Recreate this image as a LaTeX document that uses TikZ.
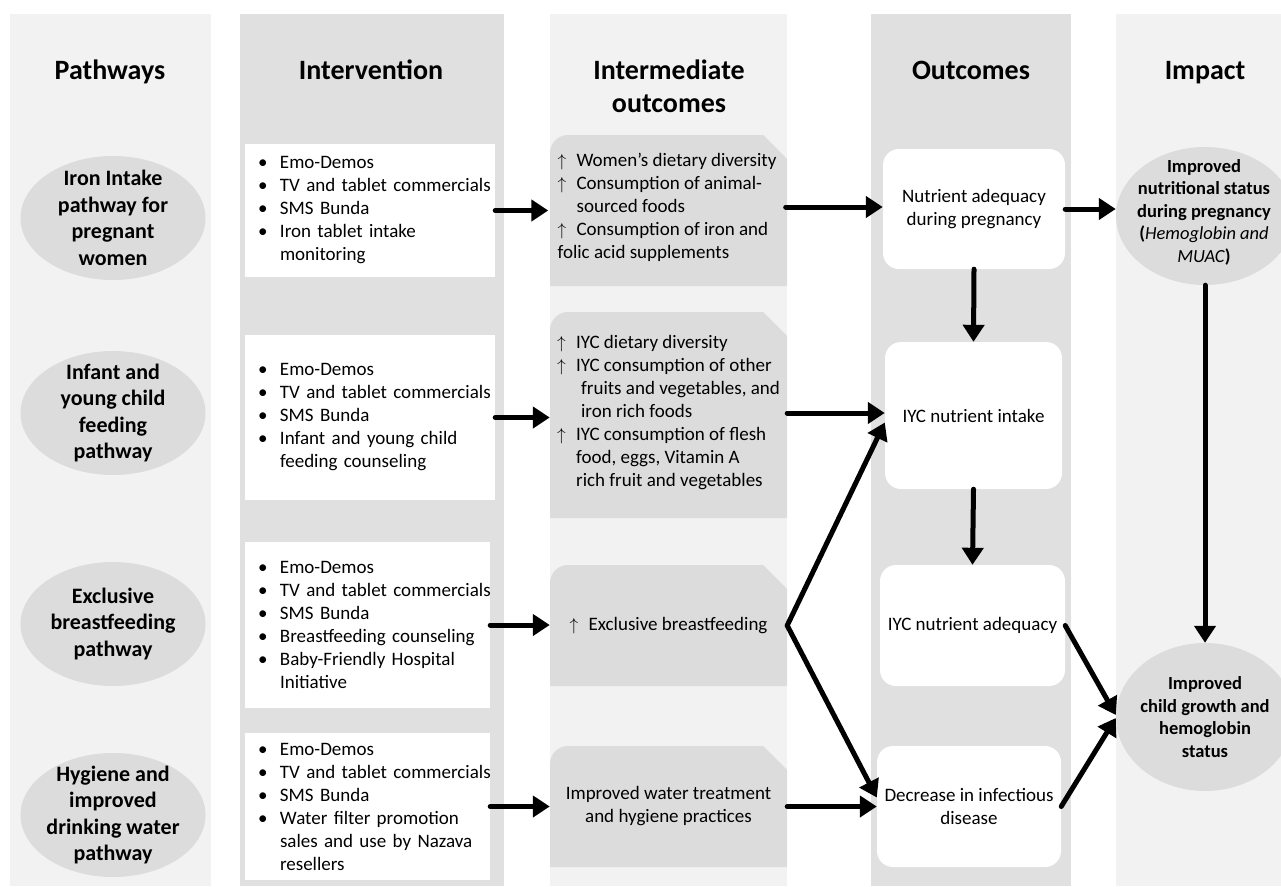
\documentclass[tikz,border=0pt]{standalone}
\usepackage{fontspec}
\setmainfont{Carlito}
\usepackage{xcolor}
\usepackage{tikz}
\usetikzlibrary{shapes,arrows.meta,positioning,calc}

\definecolor{collight}{HTML}{F2F2F2}
\definecolor{coldark}{HTML}{E0E0E0}
\definecolor{shapegray}{HTML}{DCDCDC}

\newcommand{\txtsize}{\fontsize{19}{23}\selectfont}
\newcommand{\bul}[1]{\makebox[32pt][l]{\hspace{10pt}\textbullet}\mbox{#1}}
\newcommand{\cnt}[1]{\hspace*{32pt}\mbox{#1}}
\newcommand{\up}{\makebox[19pt][l]{$\uparrow$}}

\begin{document}
\begin{tikzpicture}[x=1pt,y=-1pt,
    head/.style={font=\fontsize{28}{33}\selectfont\bfseries, align=center, anchor=base},
    pathell/.style={ellipse, fill=shapegray, inner sep=0pt, minimum width=185pt, minimum height=124pt},
    pathtxt/.style={font=\fontsize{22}{26.5}\selectfont\bfseries, align=center},
    interbox/.style={fill=white, inner xsep=3pt, inner ysep=0pt, text width=#1, align=left, font=\txtsize},
    midbox/.style={inner sep=0pt, align=left, font=\txtsize},
    outbox/.style={fill=white, rounded corners=16pt, inner sep=0pt, align=center, font=\txtsize},
    impell/.style={ellipse, fill=shapegray, inner sep=0pt, minimum width=178pt},
    imptxt/.style={font=\fontsize{18.5}{22.5}\selectfont\bfseries, align=center},
    arr/.style={line width=5pt, line cap=round, -{Triangle[length=17pt,width=21pt]}}
]
    \useasboundingbox (0,0) rectangle (1281,886);

    % Columns
    \fill[collight] (10,14) rectangle (211,886);
    \fill[coldark] (240,14) rectangle (504,886);
    \fill[collight] (550,14) rectangle (787,886);
    \fill[coldark] (871,14) rectangle (1071,886);
    \fill[collight] (1116,14) rectangle (1290,886);

    \node[head] (hpath) at (110,79) {Pathways};
    \node[head] (hint) at (371,79) {Intervention};
    \node[head, anchor=north] (hmid) at (669,56) {Intermediate\\outcomes};
    \node[head] (hout) at (971,79) {Outcomes};
    \node[head] (himp) at (1205,79) {Impact};

    % Pathways
    \node[pathell] (p1) at (113,218) {};
    \node[pathtxt] (p1t) at (p1) {Iron Intake\\pathway for\\pregnant\\women};
    \node[pathell] (p2) at (113,413) {};
    \node[pathtxt] (p2t) at (p2) {Infant and\\young child\\feeding\\pathway};
    \node[pathell] (p3) at (113,624) {};
    \node[pathtxt] (p3t) at (p3) {Exclusive\\breastfeeding\\pathway};
    \node[pathell] (p4) at (113,815) {};
    \node[pathtxt] (p4t) at (p4) {Hygiene and\\improved\\drinking water\\pathway};

    % Intervention
    \node[interbox=244pt, minimum height=133pt] (int1) at (370,210.5)
        {\bul{Emo-Demos}\\ \bul{TV and tablet commercials}\\ \bul{SMS Bunda}\\ \bul{Iron tablet intake}\\ \cnt{monitoring}};
    \node[interbox=244pt, minimum height=165pt] (int2) at (370,417.5)
        {\bul{Emo-Demos}\\ \bul{TV and tablet commercials}\\ \bul{SMS Bunda}\\ \bul{Infant and young child}\\ \cnt{feeding counseling}};
    \node[interbox=239pt, minimum height=166pt] (int3) at (367.5,625)
        {\bul{Emo-Demos}\\ \bul{TV and tablet commercials}\\ \bul{SMS Bunda}\\ \bul{Breastfeeding counseling}\\ \bul{Baby-Friendly Hospital}\\ \cnt{Initiative}};
    \node[interbox=239pt, minimum height=147pt] (int4) at (367.5,806.5)
        {\bul{Emo-Demos}\\ \bul{TV and tablet commercials}\\ \bul{SMS Bunda}\\ \bul{Water filter promotion}\\ \cnt{sales and use by Nazava}\\ \cnt{resellers}};

    % Intermediate outcomes
    \foreach \l/\t/\r/\b in {550/135/787/286, 550/312/787/518, 550/565/787/686, 550/746/787/867}
        \fill[shapegray] (\l,\b) -- (\l,\t+18) arc[start angle=180, end angle=90, radius=18pt]
            -- (\r-24,\t) -- (\r,\t+24) -- (\r,\b) -- cycle;
    \node[midbox, minimum width=237pt, minimum height=151pt] (mid1) at (667,207)
        {\up Women’s dietary diversity\\ \up Consumption of animal-\\ \hspace*{19pt}sourced foods\\ \up Consumption of iron and\\ folic acid supplements};
    \node[midbox, minimum width=237pt, minimum height=206pt] (mid2) at (668.5,413)
        {\up IYC dietary diversity\\ \up IYC consumption of other\\ \hspace*{24pt}fruits and vegetables, and\\ \hspace*{24pt}iron rich foods\\ \up IYC consumption of flesh\\ \hspace*{19pt}food, eggs, Vitamin A\\ \hspace*{19pt}rich fruit and vegetables};
    \node[midbox, minimum width=237pt, minimum height=121pt] (mid3) at (668.5,625.5)
        {\up Exclusive breastfeeding};
    \node[midbox, align=center, minimum width=237pt, minimum height=121pt] (mid4) at (668.5,806.5)
        {Improved water treatment\\and hygiene practices};

    % Outcomes
    \node[outbox, minimum width=182pt, minimum height=120pt] (out1) at (974,209) {Nutrient adequacy\\during pregnancy};
    \node[outbox, minimum width=177pt, minimum height=147pt] (out2) at (973.5,415.5) {IYC nutrient intake};
    \node[outbox, minimum width=185pt, minimum height=121pt] (out3) at (972.5,625.5) {IYC nutrient adequacy};
    \node[outbox, minimum width=184pt, minimum height=121pt] (out4) at (969,806.5) {Decrease in infectious\\disease};

    % Impact
    \node[impell, minimum height=138pt] (imp1) at (1205,216) {};
    \node[imptxt] (imp1t) at (1204,212) {Improved\\nutritional status\\during pregnancy\\(\textit{\mdseries Hemoglobin and}\\\textit{\mdseries MUAC})};
    \node[impell, minimum height=148pt] (imp2) at (1205,717) {};
    \node[imptxt] (imp2t) at (imp2) {Improved\\child growth and\\hemoglobin\\status};

    % Arrows
    \foreach \a/\b in {int1/mid1, int2/mid2, int3/mid3, int4/mid4, mid1/out1, mid2/out2, mid4/out4, out1/imp1}
        \draw[arr] (\a.east) -- (\a.east -| \b.west);
    \draw[arr] (mid3.east) -- ([yshift=-7pt]out2.west);
    \draw[arr] (mid3.east) -- ([yshift=9pt]out4.west);
    \draw[arr] (out1.south) -- (out2.north);
    \draw[arr] (out2.south) -- (out3.north);
    \draw[arr] (imp1.south) -- (imp2.north);
    \draw[arr] (out3.east) -- ([yshift=2pt]imp2.west);
    \draw[arr] (out4.east) -- ([yshift=-1pt]imp2.west);
\end{tikzpicture}
\end{document}
